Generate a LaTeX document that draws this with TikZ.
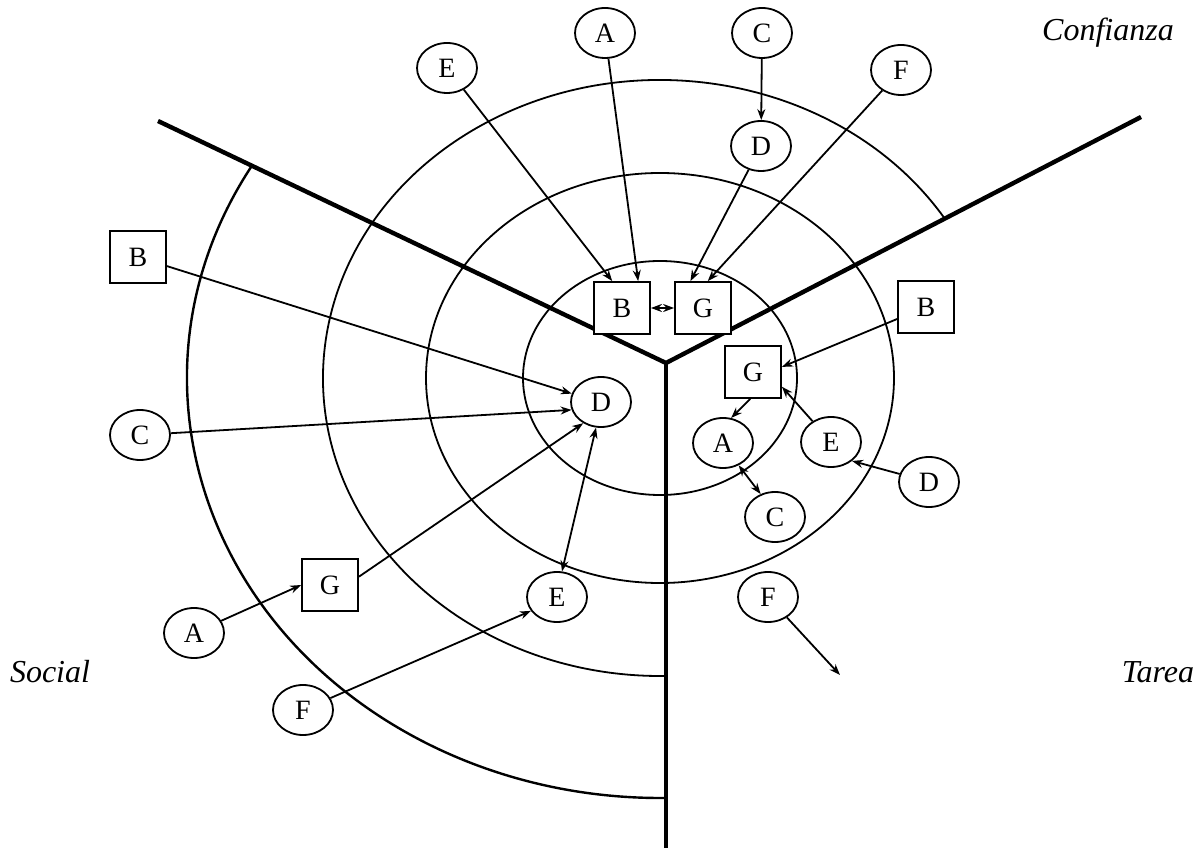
\documentclass[tikz,border=0pt]{standalone}
\usepackage{fontspec}
\setmainfont{Liberation Serif}
\usepackage{tikz}
\usetikzlibrary{shapes.geometric, arrows.meta}

\begin{document}
\begin{tikzpicture}[
  x=0.5pt, y=-0.5pt,
  circ/.style     = {ellipse, draw, fill=white, line width=0.9pt,
                     minimum width=30pt, minimum height=25pt, inner sep=0pt,
                     font=\fontsize{14}{16}\selectfont},
  sq/.style       = {rectangle, draw, fill=white, line width=0.9pt,
                     minimum width=28pt, minimum height=26pt, inner sep=0pt,
                     font=\fontsize{14}{16}\selectfont},
  arrow/.style    = {-{Stealth[length=5.5pt, width=4pt]}, line width=0.9pt},
  dblarrow/.style = {{Stealth[length=5.5pt, width=4pt]}-{Stealth[length=5.5pt, width=4pt]},
                     line width=0.9pt},
  spoke/.style    = {line width=2.2pt},
  ring/.style     = {line width=0.9pt},
  sector/.style   = {font=\fontsize{16}{18}\selectfont\itshape},
]
\useasboundingbox (0,0) rectangle (1198,860);

%% --- Rings ---
\coordinate (ctr) at (660,378);
\draw[ring] (ctr) ellipse [x radius=137, y radius=117];
\draw[ring] (ctr) ellipse [x radius=234, y radius=205];
\draw[ring] ([shift={(-32.3:337 and 298)}]ctr)
  arc [start angle=-32.3, end angle=-271, x radius=337, y radius=298];
\draw[ring, line width=1.2pt] ([shift={(-149.7:473 and 420)}]ctr)
  arc [start angle=-149.7, end angle=-270.7, x radius=473, y radius=420];

%% --- Spokes ---
\coordinate (O)   at (666,363);
\coordinate (ul)  at (158,121);
\coordinate (ur)  at (1141,117);
\coordinate (bot) at (666,848);
\draw[spoke] (ul) -- (O) -- (ur);
\draw[spoke] (O) -- (bot);

%% --- Confianza sector ---
\node[circ] (tA) at (605,33)  {A};
\node[circ] (tC) at (762,33)  {C};
\node[circ] (tE) at (447,68)  {E};
\node[circ] (tF) at (901,70)  {F};
\node[circ] (tD) at (761,146) {D};
\node[sq]   (tB) at (622,308) {B};
\node[sq]   (tG) at (703,308) {G};

%% --- Social sector ---
\node[sq]   (lB) at (138,257) {B};
\node[circ] (lC) at (140,435) {C};
\node[circ] (lD) at (601,402) {D};
\node[sq]   (lG) at (330,585) {G};
\node[circ] (lA) at (194,633) {A};
\node[circ] (lE) at (557,597) {E};
\node[circ] (lF) at (303,710) {F};

%% --- Tarea sector ---
\node[sq]   (rB) at (926,307) {B};
\node[sq]   (rG) at (753,372) {G};
\node[circ] (rA) at (723,443) {A};
\node[circ] (rE) at (831,442) {E};
\node[circ] (rD) at (929,482) {D};
\node[circ] (rC) at (775,517) {C};
\node[circ] (rF) at (768,597) {F};
\coordinate (rFend) at (840,675);

%% --- Arrows Confianza ---
\draw[arrow] (tE) -- (tB.110);
\draw[arrow] (tA) -- (tB.59);
\draw[arrow] (tC) -- (tD);
\draw[arrow] (tD) -- (tG.115);
\draw[arrow] (tF) -- (tG.80);
\draw[dblarrow] (tB) -- (tG);

%% --- Arrows Social ---
\draw[arrow] (lB) -- (lD.164);
\draw[arrow] (lC) -- (lD.195);
\draw[arrow] (lG.16) -- (lD.230);
\draw[arrow] (lA) -- (lG.west);
\draw[arrow] (lF) -- (lE.208);
\draw[dblarrow] (lD.259) -- (lE.79);

%% --- Arrows Tarea ---
\draw[arrow] (rB) -- (rG.10);
\draw[arrow] (rG.264) -- (rA.72);
\draw[arrow] (rE) -- (rG.333);
\draw[arrow] (rD) -- (rE.318);
\draw[dblarrow] (rA.305) -- (rC.122);
\draw[arrow] (rF) -- (rFend);

%% --- Sector labels ---
\node[sector] (conf) at (1108,33)  {Confianza};
\node[sector] (soc)  at (50,672)   {Social};
\node[sector] (tar)  at (1158,672) {Tarea};

\end{tikzpicture}
\end{document}
